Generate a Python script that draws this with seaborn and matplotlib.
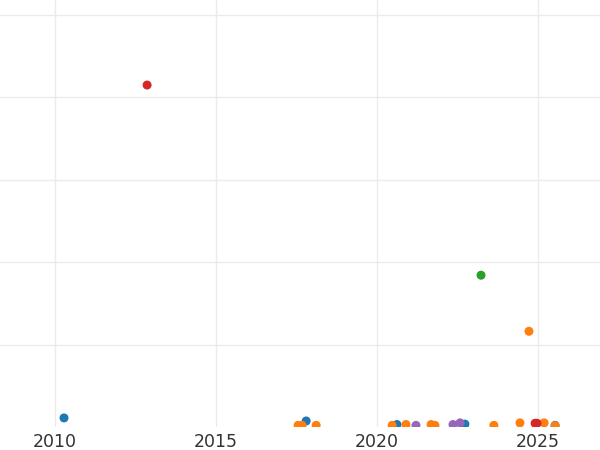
import pandas as pd
import seaborn as sns
import matplotlib.pyplot as plt

# values (x = year, y = arbitrary units, 1 unit per gridline)
blue_year = [2010.28, 2017.80, 2020.62, 2022.73, 2025.53]
blue_val = [0.11, 0.073, 0.03, 0.035, 0.02]

orange_year = [2017.55, 2017.67, 2018.11, 2020.47, 2020.90, 2021.68, 2021.80,
               2023.63, 2024.44, 2024.72, 2025.19, 2025.53]
orange_val = [0.02, 0.02, 0.02, 0.02, 0.03, 0.03, 0.02,
              0.02, 0.05, 1.16, 0.05, 0.015]

green_year = [2023.23]
green_val = [1.84]

red_year = [2012.86, 2024.91, 2024.97]
red_val = [4.145, 0.045, 0.045]

purple_year = [2021.21, 2022.36, 2022.58]
purple_val = [0.02, 0.03, 0.05]

groups = ['A', 'B', 'C', 'D', 'E']
palette = ['#1f77b4', '#ff7f0e', '#2ca02c', '#d62728', '#9467bd']

frames = []
for g, xs, ys in zip(groups,
                     [blue_year, orange_year, green_year, red_year, purple_year],
                     [blue_val, orange_val, green_val, red_val, purple_val]):
    frames.append(pd.DataFrame({'year': xs, 'value': ys, 'group': g}))
df = pd.concat(frames, ignore_index=True)

sns.set_style('whitegrid')
plt.rcParams['font.family'] = ['DejaVu Sans']

fig = plt.figure(figsize=(6, 4.5), dpi=100)
ax = fig.add_axes([0, 23 / 450, 1, 427 / 450])

sns.scatterplot(data=df, x='year', y='value', hue='group', hue_order=groups,
                palette=palette, s=42, linewidth=0, legend=False, ax=ax)

ax.set_xlim(2010 - 55 / 32.2, 2010 + 545 / 32.2)
ax.set_ylim(0, 427 / 82.5)
ax.set_xticks([2010, 2015, 2020, 2025])
ax.set_yticks([1, 2, 3, 4, 5])
ax.set_yticklabels([])
ax.set_xlabel('')
ax.set_ylabel('')
ax.grid(True, color='#ebebeb', linewidth=1)
ax.tick_params(axis='x', length=0, labelsize=12.5, labelcolor='#333333', pad=4)
ax.tick_params(axis='y', length=0)
for sp in ax.spines.values():
    sp.set_visible(False)

fig.savefig('out.png', dpi=100)
